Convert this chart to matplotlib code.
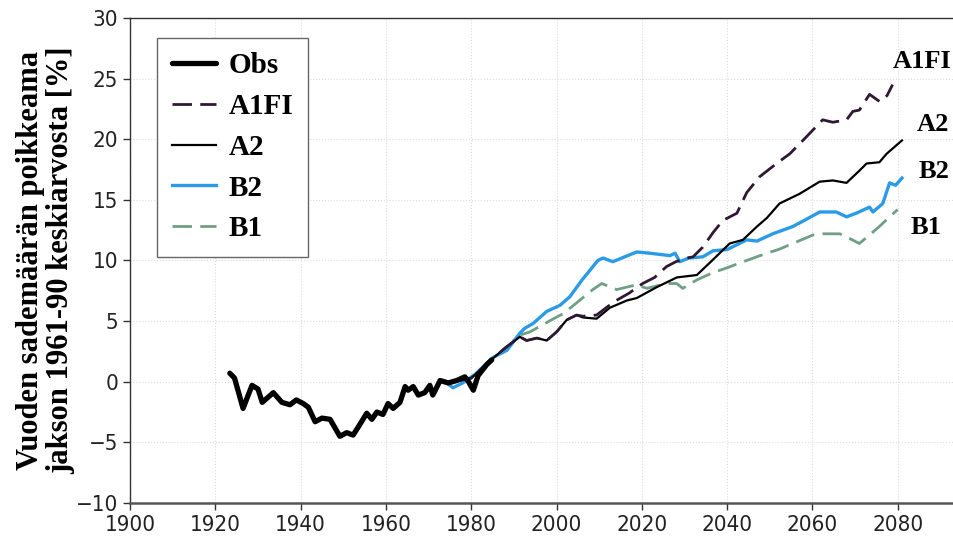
import numpy as np
import matplotlib
matplotlib.use("Agg")
from matplotlib import pyplot as plt

# havaittu sademäärä (liukuva keskiarvo)
obs_years = [1923.4, 1924.5, 1926.5, 1928.6, 1930.0, 1931.0, 1933.6, 1935.6, 1937.5, 1939.0,
             1940.6, 1941.8, 1943.4, 1945.0, 1946.9, 1949.2, 1950.8, 1952.3, 1953.4, 1955.5,
             1956.7, 1957.9, 1959.3, 1960.5, 1961.7, 1963.3, 1964.5, 1965.2, 1966.4, 1967.6,
             1969.1, 1970.3, 1971.0, 1972.7, 1974.6, 1976.6, 1978.5, 1979.2, 1980.5, 1981.6,
             1983.6, 1984.8]
obs_vals = [0.7, 0.3, -2.2, -0.3, -0.6, -1.7, -0.9, -1.7, -1.9, -1.5,
            -1.8, -2.1, -3.3, -3.0, -3.1, -4.5, -4.2, -4.4, -3.8, -2.6,
            -3.1, -2.5, -2.7, -1.8, -2.2, -1.7, -0.4, -0.7, -0.4, -1.1,
            -0.9, -0.3, -1.1, 0.1, -0.1, 0.1, 0.4, 0.1, -0.7, 0.5,
            1.4, 1.8]

b2_years = [1974.0, 1975.7, 1978.0, 1980.9, 1985.1, 1988.4, 1991.4, 1992.5, 1994.5, 1997.7,
            2000.8, 2003.1, 2006.0, 2009.7, 2010.9, 2013.2, 2016.0, 2018.8, 2021.9, 2026.6,
            2027.8, 2028.9, 2031.0, 2034.3, 2036.7, 2040.0, 2044.6, 2047.0, 2050.7, 2055.4,
            2058.6, 2061.7, 2065.6, 2068.0, 2070.3, 2073.4, 2074.2, 2076.5, 2078.1, 2079.5,
            2081.0]
b2_vals = [0.0, -0.5, -0.1, 0.6, 2.0, 2.6, 4.0, 4.4, 4.8, 5.8,
           6.3, 7.0, 8.4, 10.0, 10.2, 9.9, 10.3, 10.7, 10.6, 10.4,
           10.6, 9.9, 10.2, 10.3, 10.8, 10.9, 11.7, 11.6, 12.2, 12.8,
           13.4, 14.0, 14.0, 13.6, 13.9, 14.4, 14.0, 14.7, 16.4, 16.2,
           16.8]

a2_years = [1976.0, 1980.0, 1985.0, 1988.0, 1991.4, 1993.0, 1995.4, 1997.7, 2000.0, 2002.4,
            2004.7, 2006.2, 2009.4, 2012.5, 2016.5, 2018.8, 2023.5, 2028.2, 2032.9, 2035.9,
            2040.6, 2043.7, 2047.0, 2049.3, 2052.3, 2057.0, 2061.7, 2064.8, 2068.0, 2071.0,
            2072.7, 2075.7, 2077.4, 2081.0]
a2_vals = [0.0, 0.3, 1.9, 2.8, 3.7, 3.4, 3.6, 3.4, 4.1, 5.1,
           5.5, 5.3, 5.2, 6.1, 6.7, 6.9, 7.8, 8.6, 8.8, 9.8,
           11.4, 11.7, 12.8, 13.5, 14.7, 15.5, 16.5, 16.6, 16.4, 17.4,
           18.0, 18.1, 18.8, 19.9]

a1fi_years = [1976.0, 1980.0, 1985.0, 1988.0, 1991.4, 1993.0, 1995.4, 1997.7, 2000.0, 2002.4,
              2004.7, 2006.2, 2009.4, 2012.0, 2014.0, 2017.0, 2020.2, 2023.0, 2025.8, 2028.0,
              2030.5, 2032.0, 2034.3, 2036.7, 2039.0, 2042.3, 2044.6, 2047.6, 2051.6, 2054.7,
              2058.6, 2062.4, 2064.8, 2068.0, 2069.5, 2071.0, 2073.4, 2075.8, 2077.5, 2078.8]
a1fi_vals = [0.0, 0.3, 1.9, 2.8, 3.7, 3.4, 3.6, 3.4, 4.1, 5.1,
             5.5, 5.4, 5.5, 6.2, 6.7, 7.3, 8.1, 8.6, 9.5, 9.9,
             10.2, 10.3, 11.1, 12.3, 13.3, 13.9, 15.6, 16.9, 18.0, 18.8,
             20.2, 21.6, 21.4, 21.6, 22.3, 22.4, 23.7, 23.1, 23.6, 24.5]

b1_years = [1976.0, 1980.0, 1985.0, 1988.0, 1991.0, 1993.7, 1996.8, 1998.8, 2001.5, 2004.7,
            2008.5, 2010.6, 2012.0, 2014.1, 2018.8, 2021.2, 2025.8, 2028.2, 2029.6, 2032.9,
            2036.7, 2040.0, 2044.6, 2049.3, 2052.0, 2055.4, 2060.1, 2062.4, 2066.4, 2068.8,
            2071.0, 2072.7, 2075.7, 2078.1, 2080.0]
b1_vals = [0.0, 0.3, 1.9, 2.6, 3.8, 4.1, 4.7, 5.1, 5.6, 6.5,
           7.6, 8.1, 7.9, 7.6, 8.0, 7.7, 8.1, 8.1, 7.7, 8.4,
           9.0, 9.4, 10.0, 10.6, 10.9, 11.4, 12.1, 12.2, 12.2, 11.8,
           11.4, 11.9, 12.8, 13.6, 14.2]

x_ticks = np.arange(1900, 2081, 20)
y_ticks = np.arange(-10, 31, 5)

fig = plt.figure(figsize=(9.54, 5.43), dpi=100)
ax = fig.add_axes([0.1363, 0.0737, 0.8637, 0.8932])

ax.grid(True, color="#dcdcdc", linestyle=":", linewidth=0.8)

ax.plot(b1_years, b1_vals, color="#6f9f84", lw=2.0, ls=(0, (7, 3)), label="B1", zorder=3)
ax.plot(b2_years, b2_vals, color="#2b9be6", lw=2.4, label="B2", zorder=4)
ax.plot(a2_years, a2_vals, color="black", lw=1.6, label="A2", zorder=5)
ax.plot(a1fi_years, a1fi_vals, color="#2e1834", lw=2.0, ls=(0, (7, 3)), label="A1FI", zorder=6)
ax.plot(obs_years, obs_vals, color="black", lw=3.8, solid_capstyle="round", label="Obs", zorder=7)

ax.set_xlim(1900, 2093.2)
ax.set_ylim(-10, 30)
ax.set_xticks(x_ticks)
ax.set_yticks(y_ticks)
ax.set_yticklabels([f"\u2212{abs(v)}" if v < 0 else str(v) for v in y_ticks])

for lab in ax.get_xticklabels() + ax.get_yticklabels():
    lab.set_family("DejaVu Sans")
    lab.set_stretch("condensed")
    lab.set_fontsize(16)
    lab.set_color("#222222")
ax.tick_params(direction="out", length=5, width=1, colors="#333333", labelcolor="#222222")

ax.spines["right"].set_visible(False)
for s in ["left", "top"]:
    ax.spines[s].set_color("#333333")
    ax.spines[s].set_linewidth(1.0)
ax.spines["bottom"].set_color("#555555")
ax.spines["bottom"].set_linewidth(1.8)

handles, labels = ax.get_legend_handles_labels()
order = [4, 3, 2, 1, 0]
leg = ax.legend([handles[i] for i in order], [labels[i] for i in order],
                loc="upper left", bbox_to_anchor=(0.033, 0.959), borderaxespad=0,
                fancybox=False, edgecolor="#666666", framealpha=1,
                handlelength=1.5, labelspacing=0.47, borderpad=0.5, handletextpad=0.45,
                prop={"family": "Liberation Serif", "weight": "bold", "size": 21})
leg.get_frame().set_linewidth(1.0)

serif = {"family": "Liberation Serif", "weight": "bold", "size": 19}
ax.text(2078.8, 26.4, "A1FI", va="center", ha="left", fontdict=serif)
ax.text(2084.4, 21.2, "A2", va="center", ha="left", fontdict=serif)
ax.text(2084.9, 17.3, "B2", va="center", ha="left", fontdict=serif)
ax.text(2083.0, 12.7, "B1", va="center", ha="left", fontdict=serif)

fig.text(0.048, 0.52, "Vuoden sademäärän poikkeama\njakson 1961-90 keskiarvosta [%]",
         rotation=90, ha="center", va="center", linespacing=1.05,
         family="Liberation Serif", weight="bold", size=22)

fig.savefig("out.png", dpi=100)
